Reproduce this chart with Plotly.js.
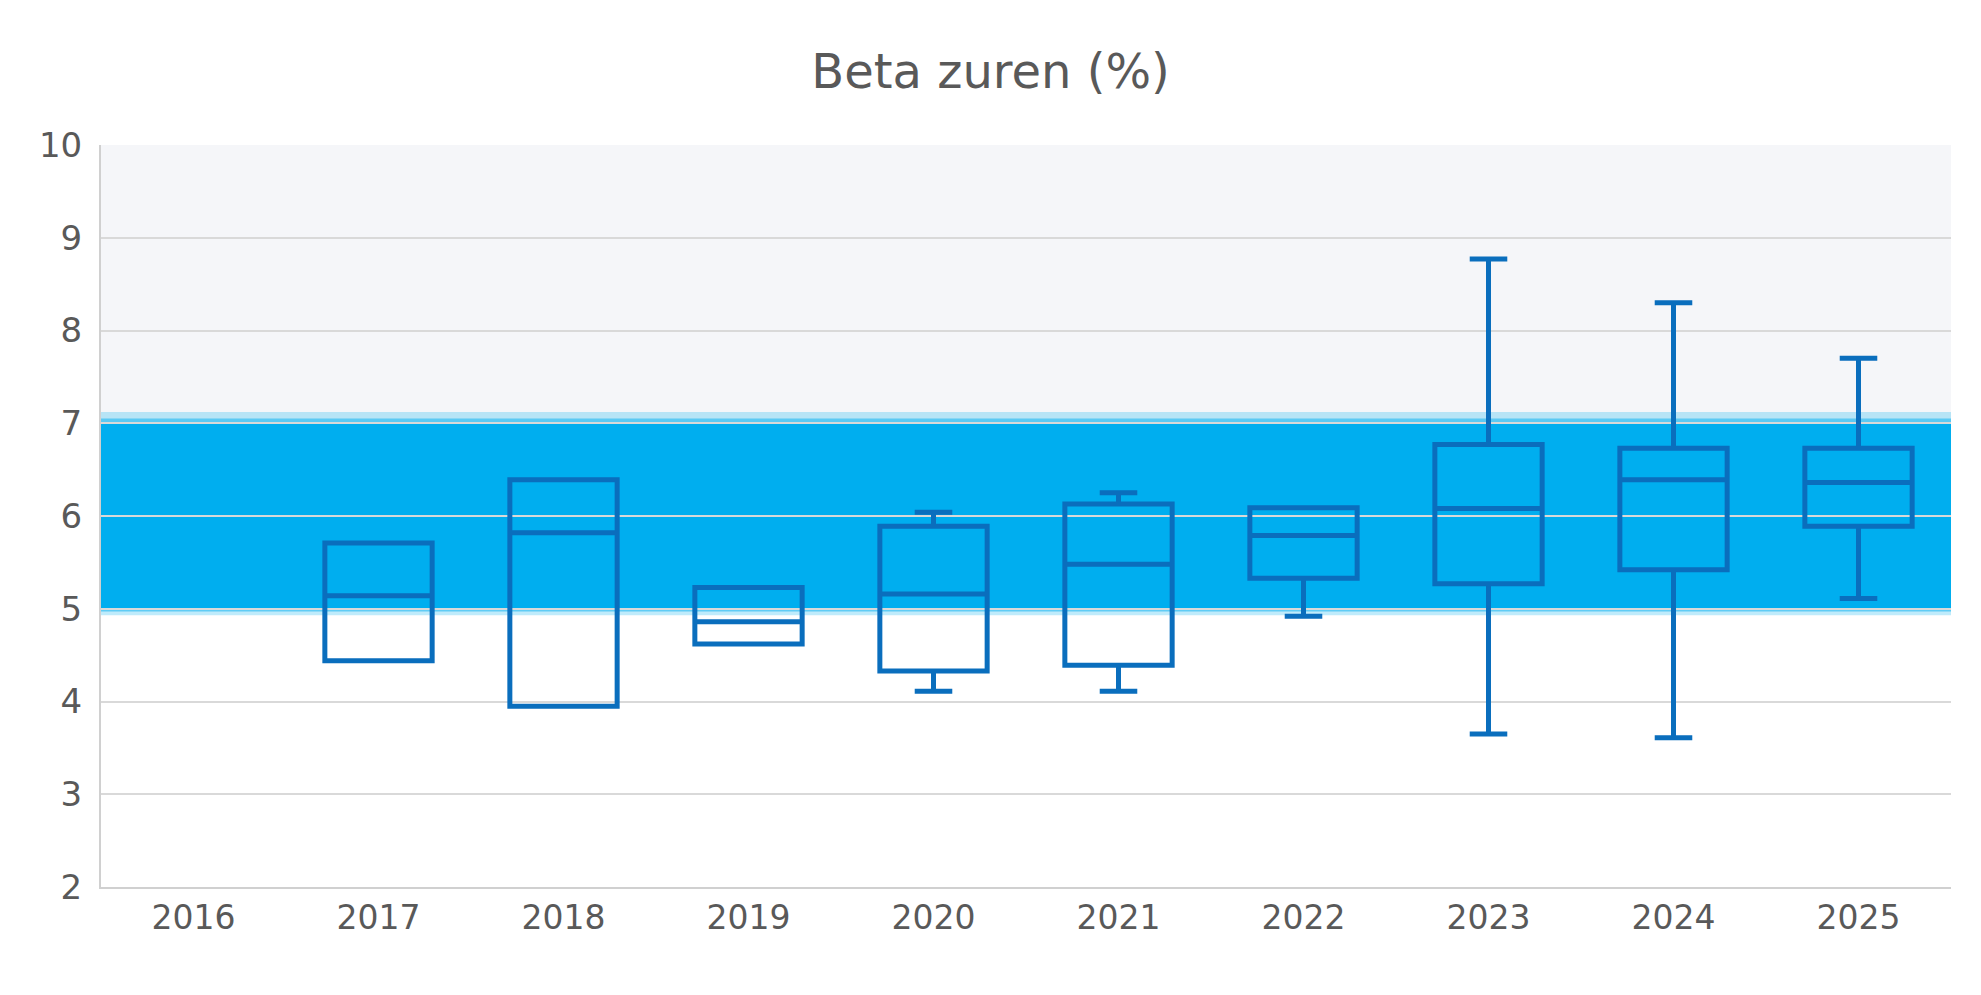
<!DOCTYPE html>
<html><head><meta charset="utf-8">
<script src="https://cdn.plot.ly/plotly-3.0.1.min.js"></script>
<style>body{margin:0;background:#fff}</style></head>
<body><div id="c" style="width:1981px;height:995px"></div>
<script>
const years = ['2016','2017','2018','2019','2020','2021','2022','2023','2024','2025'];
const boxYears = ['2017','2018','2019','2020','2021','2022','2023','2024','2025'];
const minVals = [4.44,3.95,4.62,4.11,4.11,4.92,3.65,3.61,5.11];
const q1Vals = [4.44,3.95,4.62,4.33,4.39,5.33,5.27,5.42,5.89];
const medVals = [5.14,5.82,4.86,5.16,5.48,5.79,6.08,6.39,6.36];
const q3Vals = [5.71,6.39,5.23,5.89,6.13,6.09,6.77,6.73,6.73];
const maxVals = [5.71,6.39,5.23,6.04,6.25,6.09,8.77,8.30,7.70];
const bandLow = 5, bandHigh = 7;

Plotly.newPlot('c', [{
  type:'box', x:boxYears, q1:q1Vals, median:medVals, q3:q3Vals,
  lowerfence:minVals, upperfence:maxVals,
  line:{color:'#0A6EBD', width:5}, fillcolor:'rgba(0,0,0,0)',
  width:0.58, whiskerwidth:0.35, boxpoints:false, hoverinfo:'skip'
}], {
  width:1981, height:995, showlegend:false,
  paper_bgcolor:'#fff', plot_bgcolor:'#fff',
  margin:{l:101, r:30, t:145, b:108},
  title:{text:'Beta zuren (%)', x:0.5, y:0.945, xanchor:'center',
    font:{family:'DejaVu Sans', size:48, color:'#595959'}},
  xaxis:{type:'category', categoryorder:'array', categoryarray:years, range:[-0.5,9.5],
    showline:true, linecolor:'#d0d0d0', linewidth:2, showgrid:false, ticks:'',
    tickfont:{family:'DejaVu Sans', size:33, color:'#595959'}},
  yaxis:{range:[2,10], dtick:1, showline:true, linecolor:'#d0d0d0', linewidth:2,
    gridcolor:'#d9d9d9', gridwidth:2, zeroline:false, ticks:'', ticklabelstandoff:10,
    tickfont:{family:'DejaVu Sans', size:34, color:'#595959'}},
  shapes:[
    {type:'rect', xref:'paper', yref:'y', x0:0, x1:1, y0:bandHigh, y1:10, fillcolor:'#F5F6F9', line:{width:0}, layer:'below'},
    {type:'rect', xref:'paper', yref:'y', x0:0, x1:1, y0:bandLow-0.07, y1:bandHigh+0.12, fillcolor:'rgba(0,174,239,0.25)', line:{width:0}, layer:'below'},
    {type:'rect', xref:'paper', yref:'y', x0:0, x1:1, y0:bandLow-0.03, y1:bandHigh+0.05, fillcolor:'rgba(0,174,239,0.5)', line:{width:0}, layer:'below'},
    {type:'rect', xref:'paper', yref:'y', x0:0, x1:1, y0:bandLow, y1:bandHigh, fillcolor:'#00AEEF', line:{width:0}, layer:'below'}
  ]
}, {displayModeBar:false});
</script></body></html>
